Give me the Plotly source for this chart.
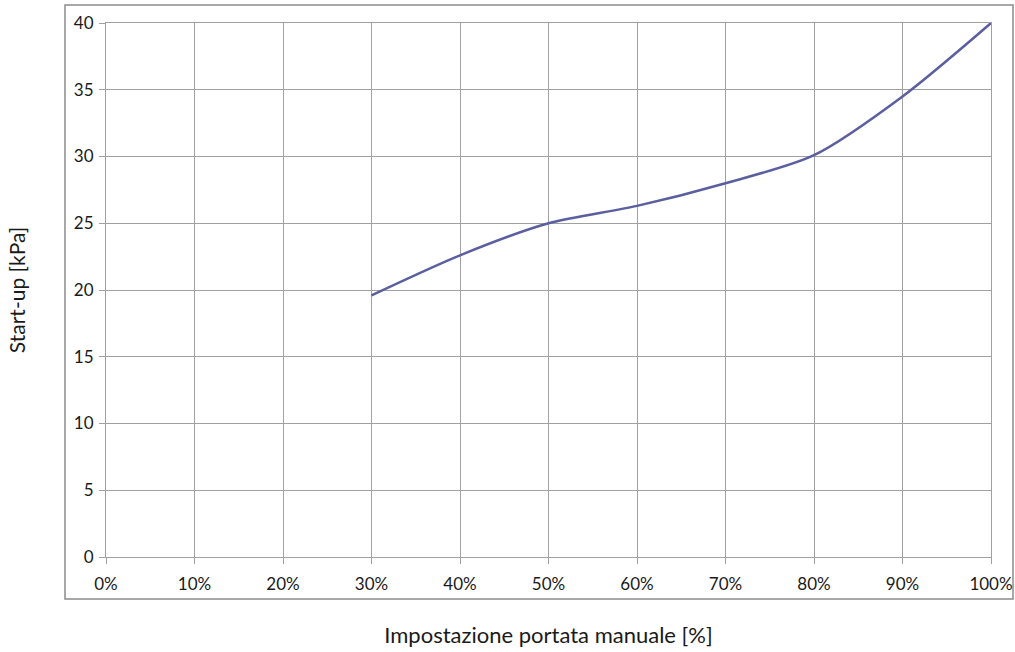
import plotly.graph_objects as go

setting_pct = [30, 40, 50, 60, 70, 80, 90, 100]
startup_kpa = [19.6, 22.6, 25.0, 26.3, 28.0, 30.1, 34.5, 40.0]

x_ticks = list(range(0, 101, 10))
x_tick_labels = [f"{v}%" for v in x_ticks]
y_ticks = list(range(0, 41, 5))

grid = "#a0a0a0"
font_family = "Lato"

W, H = 1015, 652
L, T = 106, 23
PW, PH = 885, 534

fig = go.Figure()
fig.add_trace(go.Scatter(
    x=setting_pct, y=startup_kpa, mode="lines",
    line=dict(color="#5b5f9f", width=2.5, shape="spline", smoothing=0.8),
    showlegend=False, hoverinfo="x+y",
))

fig.update_layout(
    width=W, height=H,
    margin=dict(l=L, r=W - L - PW, t=T, b=H - T - PH, autoexpand=False),
    paper_bgcolor="white", plot_bgcolor="white",
    font=dict(family=font_family, size=17, color="#1a1a1a"),
    xaxis=dict(
        range=[0, 100], tickmode="array", tickvals=x_ticks, ticktext=x_tick_labels,
        showgrid=True, gridcolor=grid, gridwidth=1,
        showline=True, linecolor=grid, linewidth=1, mirror=True,
        ticks="outside", ticklen=6, tickcolor=grid, ticklabelstandoff=6,
        zeroline=False, automargin=False, tickfont=dict(family=font_family, size=17),
        title=dict(text="Impostazione portata manuale [%]", font=dict(family=font_family, size=22), standoff=34),
    ),
    yaxis=dict(
        range=[0, 40], tickmode="array", tickvals=y_ticks,
        showgrid=True, gridcolor=grid, gridwidth=1,
        showline=True, linecolor=grid, linewidth=1, mirror=True,
        ticks="outside", ticklen=6, tickcolor=grid, ticklabelstandoff=2,
        zeroline=False, automargin=False, tickfont=dict(family=font_family, size=17),
        title=dict(text="Start-up [kPa]", font=dict(family=font_family, size=21), standoff=42),
    ),
    shapes=[dict(
        type="rect", xref="paper", yref="paper",
        x0=(65 - L) / PW, x1=(1013 - L) / PW,
        y0=(T + PH - 599) / PH, y1=(T + PH - 5) / PH,
        line=dict(color="#8c8c8c", width=1.5), fillcolor="rgba(0,0,0,0)",
        layer="below",
    )],
)

fig.write_html(
    "out.html",
    config={"displayModeBar": False},
    post_script="document.body.style.margin='0';document.body.style.overflow='hidden';",
)
